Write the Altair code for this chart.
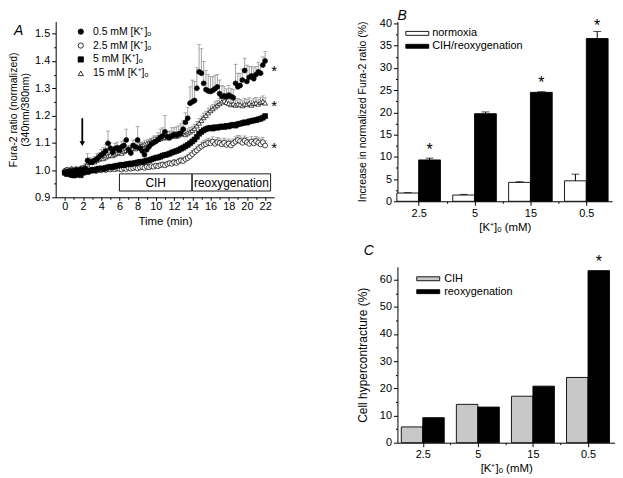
import altair as alt
import pandas as pd

FONT = "Liberation Sans"

# ---------------- Panel A : time courses ----------------
TIME = [round(0.25 * i, 2) for i in range(89)]

SERIES = ["0.5 mM [K⁺]ₒ", "2.5 mM [K⁺]ₒ", "5 mM [K⁺]ₒ", "15 mM [K⁺]ₒ"]
SHAPES = ["circle", "circle", "square", "triangle-up"]
FILLS = ["black", "white", "black", "white"]
STROKES = ["black", "black", "black", "black"]
DRAW_ORDER = [3, 1, 2, 0]

K05 = [0.990, 0.995, 0.992, 0.998,
       0.995, 1.000, 0.997, 1.002,
       1.000, 1.005, 1.035, 1.030,
       1.028, 1.035, 1.040, 1.048,
       1.055, 1.062, 1.070, 1.098,
       1.080, 1.065, 1.078, 1.082,
       1.072, 1.085, 1.090, 1.110,
       1.075, 1.062, 1.090, 1.085,
       1.110, 1.080, 1.070, 1.056,
       1.074, 1.085, 1.095, 1.100,
       1.105, 1.112, 1.120, 1.125,
       1.140, 1.122, 1.118, 1.125,
       1.130, 1.128, 1.132, 1.135,
       1.150, 1.175, 1.190, 1.245,
       1.250, 1.255, 1.300, 1.360,
       1.355, 1.318, 1.295, 1.290,
       1.288, 1.292, 1.298, 1.305,
       1.280, 1.270, 1.272, 1.268,
       1.275, 1.270, 1.265, 1.318,
       1.305, 1.310, 1.330, 1.365,
       1.325, 1.340, 1.345, 1.335,
       1.350, 1.360, 1.355, 1.385,
       1.400]
K05_ERR = [0.005, 0.005, 0.005, 0.005,
           0.005, 0.005, 0.005, 0.005,
           0.005, 0.010, 0.025, 0.015,
           0.010, 0.015, 0.020, 0.015,
           0.020, 0.020, 0.025, 0.045,
           0.020, 0.015, 0.020, 0.020,
           0.015, 0.020, 0.020, 0.040,
           0.015, 0.010, 0.020, 0.025,
           0.050, 0.020, 0.015, 0.010,
           0.015, 0.020, 0.020, 0.025,
           0.020, 0.025, 0.030, 0.030,
           0.060, 0.020, 0.025, 0.030,
           0.025, 0.030, 0.030, 0.035,
           0.030, 0.035, 0.040, 0.060,
           0.080, 0.070, 0.075, 0.100,
           0.090, 0.080, 0.070, 0.060,
           0.055, 0.050, 0.050, 0.045,
           0.050, 0.040, 0.035, 0.030,
           0.035, 0.030, 0.030, 0.070,
           0.050, 0.045, 0.040, 0.045,
           0.060, 0.040, 0.035, 0.040,
           0.030, 0.035, 0.030, 0.030,
           0.035]

K25 = [0.995, 1.000, 0.998, 1.002,
       0.997, 0.995, 0.998, 1.000,
       0.998, 1.002, 1.000, 0.998,
       1.002, 1.000, 0.997, 1.001,
       0.999, 1.003, 1.000, 1.004,
       1.002, 1.005, 1.003, 1.006,
       1.004, 1.002, 1.006, 1.004,
       1.008, 1.005, 1.007, 1.010,
       1.006, 1.009, 1.011, 1.008,
       1.012, 1.010, 1.014, 1.012,
       1.016, 1.014, 1.018, 1.020,
       1.017, 1.022, 1.025, 1.023,
       1.028, 1.026, 1.031, 1.035,
       1.033, 1.040, 1.044, 1.050,
       1.058, 1.066, 1.072, 1.080,
       1.086, 1.092, 1.095, 1.100,
       1.098, 1.104, 1.096, 1.102,
       1.099, 1.094, 1.100, 1.092,
       1.097, 1.090, 1.098, 1.104,
       1.110, 1.106, 1.100, 1.108,
       1.102, 1.096, 1.104, 1.098,
       1.106, 1.100, 1.094, 1.102,
       1.090]
K25_ERR = [0.005, 0.006, 0.005, 0.006,
           0.005, 0.006, 0.005, 0.006,
           0.006, 0.005, 0.006, 0.005,
           0.006, 0.005, 0.006, 0.006,
           0.005, 0.006, 0.005, 0.006,
           0.006, 0.005, 0.006, 0.006,
           0.006, 0.007, 0.006, 0.007,
           0.007, 0.006, 0.007, 0.007,
           0.007, 0.008, 0.007, 0.008,
           0.008, 0.007, 0.008, 0.008,
           0.008, 0.009, 0.008, 0.009,
           0.009, 0.010, 0.009, 0.010,
           0.010, 0.010, 0.011, 0.010,
           0.012, 0.011, 0.012, 0.013,
           0.014, 0.013, 0.015, 0.014,
           0.016, 0.015, 0.016, 0.017,
           0.016, 0.018, 0.016, 0.017,
           0.018, 0.016, 0.017, 0.018,
           0.017, 0.018, 0.016, 0.018,
           0.017, 0.019, 0.018, 0.017,
           0.018, 0.017, 0.019, 0.018,
           0.017, 0.018, 0.020, 0.018,
           0.017]

K5 = [0.990, 0.985, 0.988, 0.982,
      0.980, 0.983, 0.985, 0.981,
      0.990, 0.995, 0.993, 0.997,
      1.000, 0.998, 1.003, 1.005,
      1.006, 1.004, 1.008, 1.010,
      1.012, 1.011, 1.014, 1.016,
      1.017, 1.019, 1.018, 1.021,
      1.022, 1.024, 1.023, 1.026,
      1.028, 1.030, 1.029, 1.032,
      1.034, 1.036, 1.039, 1.042,
      1.045, 1.046, 1.049, 1.053,
      1.055, 1.057, 1.060, 1.064,
      1.067, 1.070, 1.073, 1.078,
      1.082, 1.087, 1.092, 1.098,
      1.105, 1.112, 1.122, 1.133,
      1.140, 1.146, 1.150, 1.153,
      1.155, 1.152, 1.157, 1.155,
      1.158, 1.160, 1.158, 1.162,
      1.160, 1.164, 1.166, 1.163,
      1.168, 1.170, 1.172, 1.175,
      1.174, 1.178, 1.180, 1.182,
      1.183, 1.186, 1.188, 1.192,
      1.198]
K5_ERR = [0.004] * 89

K15 = [1.000, 1.003, 0.998, 1.005,
       1.002, 1.006, 1.004, 1.008,
       1.010, 1.015, 1.022, 1.028,
       1.033, 1.030, 1.036, 1.040,
       1.044, 1.042, 1.048, 1.052,
       1.055, 1.053, 1.058, 1.062,
       1.064, 1.062, 1.068, 1.072,
       1.074, 1.078, 1.080, 1.078,
       1.084, 1.088, 1.090, 1.094,
       1.097, 1.100, 1.104, 1.106,
       1.108, 1.112, 1.115, 1.118,
       1.120, 1.118, 1.122, 1.125,
       1.127, 1.124, 1.128, 1.132,
       1.134, 1.130, 1.136, 1.140,
       1.145, 1.152, 1.162, 1.172,
       1.182, 1.192, 1.200, 1.210,
       1.218, 1.225, 1.232, 1.238,
       1.244, 1.250, 1.254, 1.248,
       1.244, 1.240, 1.243, 1.238,
       1.242, 1.240, 1.236, 1.242,
       1.240, 1.245, 1.238, 1.244,
       1.246, 1.242, 1.248, 1.252,
       1.246]
K15_ERR = [0.005, 0.006, 0.005, 0.006,
           0.006, 0.005, 0.006, 0.006,
           0.007, 0.008, 0.008, 0.009,
           0.009, 0.010, 0.009, 0.010,
           0.010, 0.011, 0.010, 0.011,
           0.011, 0.010, 0.011, 0.012,
           0.011, 0.012, 0.011, 0.012,
           0.012, 0.011, 0.012, 0.013,
           0.012, 0.013, 0.012, 0.013,
           0.013, 0.012, 0.013, 0.014,
           0.013, 0.014, 0.013, 0.014,
           0.014, 0.013, 0.014, 0.015,
           0.014, 0.015, 0.014, 0.015,
           0.015, 0.014, 0.015, 0.016,
           0.016, 0.015, 0.016, 0.017,
           0.016, 0.017, 0.016, 0.017,
           0.017, 0.016, 0.018, 0.017,
           0.018, 0.020, 0.018, 0.019,
           0.018, 0.020, 0.019, 0.018,
           0.020, 0.019, 0.018, 0.020,
           0.019, 0.020, 0.018, 0.019,
           0.020, 0.018, 0.019, 0.020,
           0.019]

SERIES_DATA = [(K05, K05_ERR), (K25, K25_ERR), (K5, K5_ERR), (K15, K15_ERR)]

BOX_START = [6.0, 14.0]
BOX_END = [13.95, 22.6]
BOX_LABEL = ["CIH", "reoxygenation"]
ARROW_T = [1.92]
STAR_A_T = 23.0
STAR_A_Y = [1.378, 1.248, 1.096]

# ---------------- Panel B : Fura-2 increase ----------------
CATS = ["2.5", "5", "15", "0.5"]
B_GROUPS = ["normoxia", "CIH/reoxygenation"]
NORMOXIA = [1.85, 1.4, 4.25, 4.6]
NORMOXIA_ERR = [0.1, 0.15, 0.15, 1.5]
CIH_REOX = [9.3, 19.7, 24.5, 36.6]
CIH_REOX_ERR = [0.4, 0.4, 0.15, 1.6]
STAR_B_CATS = ["2.5", "15", "0.5"]
STAR_B_Y = [12.5, 27.4, 40.3]

# ---------------- Panel C : hypercontracture ----------------
C_GROUPS = ["CIH", "reoxygenation"]
CIH_PCT = [5.8, 14.1, 17.1, 24.0]
REOX_PCT = [9.2, 13.1, 20.8, 63.3]
STAR_C_CATS = ["0.5"]
STAR_C_Y = [67.9]

BAR_W = 0.39

# ---------------- tables ----------------
rows = []
for si in DRAW_ORDER:
    vals, errs = SERIES_DATA[si]
    for t, v, e in zip(TIME, vals, errs):
        rows.append({"t": t, "v": v, "top": v + e, "series": SERIES[si]})
df_a = pd.DataFrame(rows)
df_box = pd.DataFrame({"start": BOX_START, "end": BOX_END, "label": BOX_LABEL,
                       "mid": [(a + b) / 2 for a, b in zip(BOX_START, BOX_END)]})
df_arrow = pd.DataFrame({"t": ARROW_T})
df_star_a = pd.DataFrame({"t": [STAR_A_T] * len(STAR_A_Y), "v": STAR_A_Y})


def bar_table(groups, first, second, first_err=None, second_err=None):
    out = []
    for i, c in enumerate(CATS):
        pos = i + 1
        for g, vals, errs, x0 in ((groups[0], first, first_err, pos - BAR_W),
                                  (groups[1], second, second_err, pos)):
            e = errs[i] if errs else 0
            out.append({"cat": c, "grp": g, "x0": x0, "x1": x0 + BAR_W,
                        "xm": x0 + BAR_W / 2, "v": vals[i], "top": vals[i] + e})
    return pd.DataFrame(out)


df_b = bar_table(B_GROUPS, NORMOXIA, CIH_REOX, NORMOXIA_ERR, CIH_REOX_ERR)
df_c = bar_table(C_GROUPS, CIH_PCT, REOX_PCT)
df_star_b = pd.DataFrame({"xm": [CATS.index(c) + 1 + BAR_W / 2 for c in STAR_B_CATS], "v": STAR_B_Y})
df_star_c = pd.DataFrame({"xm": [CATS.index(c) + 1 + BAR_W / 2 for c in STAR_C_CATS], "v": STAR_C_Y})


def panel_title(letter, dx, offset):
    return alt.TitleParams(text=letter, anchor="start", frame="group", dx=dx, offset=offset,
                           fontSize=14, fontStyle="italic", fontWeight="normal", font=FONT,
                           color="black")


def tick_cond(test, major=4, minor=2):
    return {"condition": {"test": test, "value": major}, "value": minor}


# ---------------- Panel A chart ----------------
xs_a = alt.Scale(domain=[-1, 23], nice=False, zero=False)
ys_a = alt.Scale(domain=[0.9, 1.545], nice=False, zero=False)
x_axis_a = alt.Axis(values=list(range(0, 23)), title="Time (min)", grid=False,
                    labelExpr="datum.value % 2 == 0 ? datum.label : ''",
                    tickSize=tick_cond("datum.value % 2 == 0", 3, 2), labelOverlap=False,
                    labelPadding=0, titlePadding=4, titleFontSize=11.5)
y_axis_a = alt.Axis(values=[round(0.9 + 0.05 * i, 2) for i in range(13)],
                    title=["Fura-2 ratio (normalized)", "(340nm/380nm)"], grid=False,
                    labelExpr="round(datum.value * 100) % 10 == 0 ? format(datum.value, '.1f') : ''",
                    tickSize=tick_cond("round(datum.value * 100) % 10 == 0", 4, 2),
                    labelOverlap=False,
                    titlePadding=4, titleFontSize=10.5, titleLineHeight=12)


def XA(f):
    return alt.X(f, type="quantitative", scale=xs_a, axis=x_axis_a)


def YA(f):
    return alt.Y(f, type="quantitative", scale=ys_a, axis=y_axis_a)


def YD(v):
    return alt.YDatum(v, scale=ys_a, axis=y_axis_a)


legend_a = alt.Legend(orient="none", legendX=20, legendY=5, title=None, labelFontSize=10.5,
                      symbolSize=28, symbolStrokeWidth=0.8,
                      rowPadding=3, padding=0, labelOffset=7, labelFont=FONT)

base_a = alt.Chart(df_a)
err_a = base_a.mark_rule(color="#999999", strokeWidth=0.9).encode(x=XA("t"), y=YA("v"), y2="top:Q")
cap_a = base_a.mark_tick(color="#7a7a7a", thickness=0.8, size=4, orient="horizontal").encode(
    x=XA("t"), y=YA("top"))
pts_a = base_a.mark_point(filled=True, size=24, strokeWidth=0.7, opacity=1).encode(
    x=XA("t"), y=YA("v"),
    shape=alt.Shape("series:N", scale=alt.Scale(domain=SERIES, range=SHAPES), legend=legend_a),
    fill=alt.Fill("series:N", scale=alt.Scale(domain=SERIES, range=FILLS), legend=legend_a),
    stroke=alt.Stroke("series:N", scale=alt.Scale(domain=SERIES, range=STROKES), legend=legend_a),
)
box_a = alt.Chart(df_box).mark_rect(fill="white", stroke="black", strokeWidth=0.9).encode(
    x=XA("start"), x2="end:Q", y=YD(0.923), y2=alt.datum(0.986))
boxtxt_a = alt.Chart(df_box).mark_text(fontSize=12, font=FONT, color="black").encode(
    x=XA("mid"), y=YD(0.954), text="label:N")
arrow_shaft = alt.Chart(df_arrow).mark_rule(color="black", strokeWidth=1.8).encode(
    x=XA("t"), y=YD(1.19), y2=alt.datum(1.103))
arrow_head = alt.Chart(df_arrow).mark_point(shape="triangle-down", filled=True, color="black",
                                            size=30, opacity=1).encode(
    x=XA("t"), y=YD(1.097))
star_a = alt.Chart(df_star_a).mark_text(text="*", fontSize=15, font=FONT, color="black",
                                        baseline="middle", dy=4).encode(x=XA("t"), y=YA("v"))

chart_a = alt.layer(err_a, cap_a, box_a, boxtxt_a, arrow_shaft, arrow_head, pts_a, star_a).properties(
    width=220, height=177, title=panel_title("A", -42, -17))


# ---------------- Bar panels ----------------
def cat_label_expr():
    expr = ""
    for i, c in enumerate(CATS):
        expr += f"datum.value == {i + 1} ? '{c}' : "
    return expr + "''"


def bar_panel(df, stars, groups, fills, ydomain, yvalues, ymajor, ytitle, ytitle_size,
              ytitle_pad, width, height, xdomain, legend_x, legend_y, label_off, letter,
              letter_dx, letter_off, with_err):
    xs = alt.Scale(domain=xdomain, nice=False, zero=False)
    ys = alt.Scale(domain=ydomain, nice=False, zero=True)
    x_axis = alt.Axis(values=[1, 1.5, 2, 2.5, 3, 3.5, 4], labelExpr=cat_label_expr(),
                      tickSize=tick_cond("datum.value % 1 == 0", 4, 2), grid=False,
                      labelOverlap=False,
                      title="[K⁺]ₒ (mM)", titleFontSize=11.5, labelPadding=2, titlePadding=3)
    y_axis = alt.Axis(values=yvalues, grid=False, title=ytitle, titleFontSize=ytitle_size,
                      labelExpr=f"datum.value % {ymajor} == 0 ? datum.label : ''",
                      tickSize=tick_cond(f"datum.value % {ymajor} == 0", 4, 2),
                      labelOverlap=False, titlePadding=ytitle_pad)

    def X(f):
        return alt.X(f, type="quantitative", scale=xs, axis=x_axis)

    def Y(f):
        return alt.Y(f, type="quantitative", scale=ys, axis=y_axis)

    sym = "M-2.1,-0.36H2.1V0.36H-2.1Z"
    leg = alt.Legend(orient="none", legendX=legend_x, legendY=legend_y, title=None,
                     labelFontSize=11, labelFont=FONT, symbolType=sym, symbolSize=121,
                     symbolStrokeColor="black", symbolStrokeWidth=0.9, rowPadding=2,
                     padding=0, labelOffset=label_off)
    base = alt.Chart(df)
    bars = base.mark_bar(stroke="black", strokeWidth=0.9, opacity=1).encode(
        x=X("x0"), x2="x1:Q", y=Y("v"), y2=alt.datum(0),
        fill=alt.Fill("grp:N", scale=alt.Scale(domain=groups, range=fills), legend=leg))
    layers = [bars]
    if with_err:
        layers.append(base.mark_rule(color="black", strokeWidth=1).encode(
            x=X("xm"), y=Y("v"), y2="top:Q"))
        layers.append(base.mark_tick(color="black", thickness=1, size=8, orient="horizontal").encode(
            x=X("xm"), y=Y("top")))
    layers.append(alt.Chart(stars).mark_text(text="*", fontSize=16, font=FONT, color="black",
                                             baseline="middle", dy=4).encode(x=X("xm"), y=Y("v")))
    return alt.layer(*layers).properties(width=width, height=height,
                                         title=panel_title(letter, letter_dx, letter_off))


chart_b = bar_panel(df_b, df_star_b, B_GROUPS, ["white", "black"], [0, 40.45],
                    [2.5 * i for i in range(17)], 5, "Increase in normalized Fura-2 ratio (%)",
                    10.5, 12, 216, 181, [0.62, 4.46], 14, 6, 9, "B", 0, -6, True)
chart_c = bar_panel(df_c, df_star_c, C_GROUPS, ["#c8c8c8", "black"], [0, 64.7],
                    [5 * i for i in range(13)], 10, "Cell hypercontracture (%)",
                    12, 10, 219, 177, [0.54, 4.49], 25, 6, 10, "C", -34, -4, False)

right = alt.vconcat(chart_b, chart_c, spacing=11).resolve_scale(fill="independent")
chart = alt.hconcat(chart_a, right, spacing=79).resolve_scale(
    fill="independent", shape="independent", stroke="independent").properties(padding=0)

chart = chart.configure_view(stroke=None).configure_axis(
    domainColor="black", tickColor="black", labelColor="black", titleColor="black",
    labelFont=FONT, titleFont=FONT, labelFontSize=11, titleFontWeight="normal",
    domainWidth=1, tickWidth=1, labelOverlap=False,
).configure_legend(labelColor="black")

chart.save("out.html", embed_options={"renderer": "svg", "actions": False})
